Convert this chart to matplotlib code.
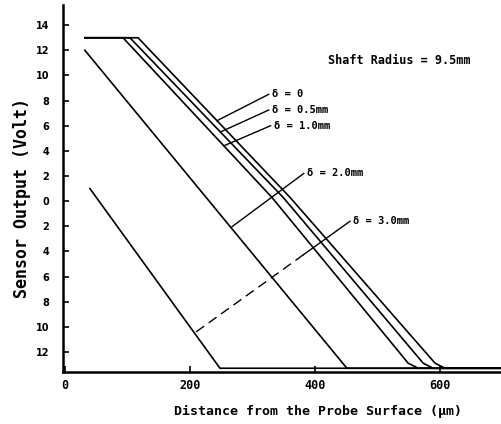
import matplotlib
matplotlib.use('Agg')
import matplotlib.pyplot as plt
import numpy as np

# sensor output (V) against probe distance (um) for each shaft offset delta
dist_d0 = [32, 117, 360, 592, 608, 700]
volt_d0 = [13, 13, 0.3, -12.9, -13.3, -13.3]
dist_d05 = [32, 104, 349, 573, 589, 700]
volt_d05 = [13, 13, 0.3, -12.9, -13.3, -13.3]
dist_d10 = [32, 93, 331, 549, 565, 700]
volt_d10 = [13, 13, 0.3, -12.9, -13.3, -13.3]
dist_d20 = [32, 451, 700]
volt_d20 = [12, -13.3, -13.3]
dist_d30 = [40, 248, 700]
volt_d30 = [1, -13.3, -13.3]

labels = ['δ = 0', 'δ = 0.5mm', 'δ = 1.0mm', 'δ = 2.0mm', 'δ = 3.0mm']
yticks = [14, 12, 10, 8, 6, 4, 2, 0, -2, -4, -6, -8, -10, -12]
xticks = [0, 200, 400, 600]

FONT = 'DejaVu Sans Mono'


def dist_at(d, v, target):
    # distance where the falling part of a curve passes a given voltage
    d = np.array(d, dtype=float)
    v = np.array(v, dtype=float)
    start = np.where(v == v.max())[0][-1]
    stop = np.where(v == v.min())[0][0]
    seg_d = d[start:stop + 1]
    seg_v = v[start:stop + 1]
    return np.interp(target, seg_v[::-1], seg_d[::-1])


fig = plt.figure(figsize=(5.02, 4.24), dpi=100)
ax = fig.add_axes([0.1255, 0.1226, 0.8745, 0.8654])

curves = [(dist_d0, volt_d0), (dist_d05, volt_d05), (dist_d10, volt_d10),
          (dist_d20, volt_d20), (dist_d30, volt_d30)]
for d, v in curves:
    ax.plot(d, v, color='k', lw=1.2, solid_joinstyle='round')

ax.set_xlim(-3, 699)
ax.set_ylim(-13.6, 15.6)

# label anchor (left, middle) and the voltage where each leader meets its curve
label_pos = [(331, 8.5), (331, 7.25), (334, 6.0), (387, 2.2), (461, -1.6)]
hit_volt = [6.4, 5.5, 4.4, -2.1, -10.5]

for i, (d, v) in enumerate(curves):
    hx = dist_at(d, v, hit_volt[i])
    hy = hit_volt[i]
    lx, ly = label_pos[i]
    sx = lx - 5
    if i == 4:
        # leader breaks into dashes on its way down
        mx = sx + (hx - sx) * 0.3
        my = ly + (hy - ly) * 0.3
        ax.plot([sx, mx], [ly, my], color='k', lw=1.0)
        ax.plot([mx, hx], [my, hy], color='k', lw=1.0, linestyle=(0, (7, 4)))
    else:
        ax.plot([sx, hx], [ly, hy], color='k', lw=1.0)
    ax.text(lx, ly, labels[i], ha='left', va='center', fontsize=7.5,
            fontweight='bold', family=FONT)

ax.text(421, 11.2, 'Shaft Radius = 9.5mm', ha='left', va='center',
        fontsize=8.5, fontweight='bold', family=FONT)

ax.set_yticks(yticks)
ax.set_yticklabels([str(abs(t)) for t in yticks], fontsize=7,
                   fontweight='bold', family='DejaVu Sans')
ax.set_xticks(xticks)
ax.set_xticklabels([str(t) for t in xticks], fontsize=8.5,
                   fontweight='bold', family=FONT)
ax.tick_params(direction='in', length=4, width=1.2, pad=10)
ax.tick_params(axis='x', pad=5)

for s in ['top', 'right']:
    ax.spines[s].set_visible(False)
for s in ['left', 'bottom']:
    ax.spines[s].set_linewidth(1.8)

ax.set_xlabel('Distance from the Probe Surface (μm)', fontsize=9.5,
              fontweight='bold', family=FONT)
ax.xaxis.set_label_coords(0.58, -0.09)
ax.set_ylabel('Sensor Output (Volt)', fontsize=12, fontweight='bold',
              family=FONT)
ax.yaxis.set_label_coords(-0.072, 0.474)

fig.savefig('out.png', dpi=100)
